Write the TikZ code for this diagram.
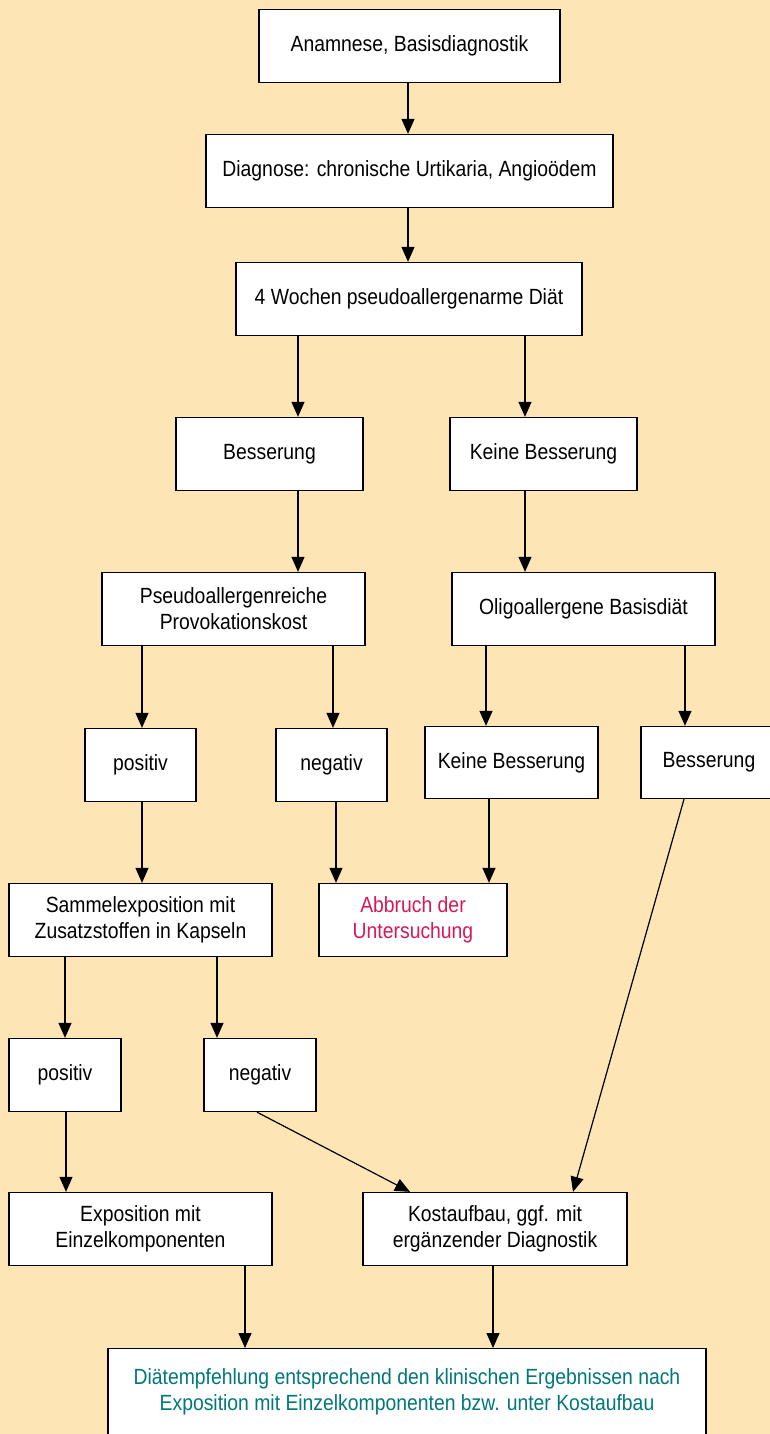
\documentclass[tikz,border=0pt]{standalone}
\usepackage{fontspec}
\setmainfont{Liberation Sans}[FakeStretch=0.88]
\usetikzlibrary{arrows.meta}
\definecolor{bgbeige}{RGB}{254,229,181}
\definecolor{abbruchred}{RGB}{215,25,85}
\definecolor{resultteal}{RGB}{0,120,122}

\begin{document}
\begin{tikzpicture}[x=1pt, y=-1pt, >={Triangle[length=15pt,width=13pt]}, line width=1.2pt,
    box/.style={draw, fill=white, line width=1.3pt, minimum height=73pt, align=center,
                inner sep=2pt, font=\fontsize{22}{26}\selectfont}]
    \useasboundingbox[fill=bgbeige] (0,0) rectangle (770,1434);

    % Top: anamnesis and diet
    \node[box, minimum width=301pt] (anam) at (409.5,46) {Anamnese, Basisdiagnostik};
    \node[box, minimum width=407pt] (diag) at (409.5,171) {Diagnose: chronische Urtikaria, Angioödem};
    \node[box, minimum width=346pt] (diaet) at (409,299) {4 Wochen pseudoallergenarme Diät};

    \draw[->] (408,0 |- anam.south) -- (408,0 |- diag.north);
    \draw[->] (408,0 |- diag.south) -- (408,0 |- diaet.north);

    % First result
    \node[box, minimum width=187pt] (bess) at (269.5,454) {Besserung};
    \node[box, minimum width=187pt] (keinb) at (543.5,454) {Keine Besserung};

    \draw[->] (298,0 |- diaet.south) -- (298,0 |- bess.north);
    \draw[->] (525,0 |- diaet.south) -- (525,0 |- keinb.north);

    % Provocation / oligoallergen diet
    \node[box, minimum width=263pt] (provo) at (233.5,609) {Pseudoallergenreiche\\Provokationskost};
    \node[box, minimum width=263pt] (oligo) at (583.5,609) {Oligoallergene Basisdiät};

    \draw[->] (298,0 |- bess.south) -- (298,0 |- provo.north);
    \draw[->] (525,0 |- keinb.south) -- (525,0 |- oligo.north);

    \node[box, minimum width=111pt] (pos) at (140.5,765) {positiv};
    \node[box, minimum width=111pt] (neg) at (331.5,765) {negativ};
    \node[box, minimum width=173pt, minimum height=72pt] (keinbb) at (511.5,762.5) {Keine Besserung};
    \node[box, minimum width=136pt, minimum height=72pt] (bessb) at (709,762.5) {Besserung};

    \draw[->] (142,0 |- provo.south) -- (142,0 |- pos.north);
    \draw[->] (333,0 |- provo.south) -- (333,0 |- neg.north);
    \draw[->] (486,0 |- oligo.south) -- (486,0 |- keinbb.north);
    \draw[->] (685,0 |- oligo.south) -- (685,0 |- bessb.north);

    % Capsule exposition
    \node[box, minimum width=263pt] (sammel) at (140.5,920) {Sammelexposition mit\\Zusatzstoffen in Kapseln};
    \node[box, minimum width=188pt, text=abbruchred] (abbruch) at (413,920) {Abbruch der\\Untersuchung};

    \draw[->] (142,0 |- pos.south) -- (142,0 |- sammel.north);
    \draw[->] (336,0 |- neg.south) -- (336,0 |- abbruch.north);
    \draw[->] (489,0 |- keinbb.south) -- (489,0 |- abbruch.north);

    \node[box, minimum width=112pt] (posb) at (65,1075) {positiv};
    \node[box, minimum width=112pt] (negb) at (260,1075) {negativ};

    \draw[->] (65,0 |- sammel.south) -- (65,0 |- posb.north);
    \draw[->] (217,0 |- sammel.south) -- (217,0 |- negb.north);

    % Single components / diet build-up
    \node[box, minimum width=263pt] (expo) at (140.5,1229) {Exposition mit\\Einzelkomponenten};
    \node[box, minimum width=264pt] (kost) at (495,1229) {Kostaufbau, ggf. mit\\ergänzender Diagnostik};

    \draw[->] (66,0 |- posb.south) -- (66,0 |- expo.north);
    \draw[->] (257,0 |- negb.south) -- (410,0 |- kost.north);
    \draw[->] (684,0 |- bessb.south) -- (573,0 |- kost.north);

    % Recommendation
    \node[box, anchor=north, minimum width=598pt, inner ysep=20pt, text depth=60pt,
          text=resultteal] (empf) at (407,1348)
          {Diätempfehlung entsprechend den klinischen Ergebnissen nach\\Exposition mit Einzelkomponenten bzw. unter Kostaufbau};

    \draw[->] (245,0 |- expo.south) -- (245,0 |- empf.north);
    \draw[->] (493,0 |- kost.south) -- (493,0 |- empf.north);
\end{tikzpicture}
\end{document}
